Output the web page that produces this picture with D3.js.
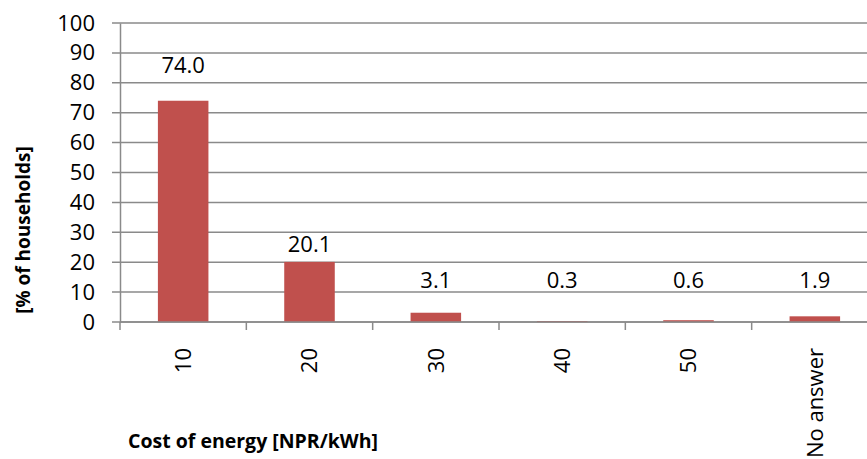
<!DOCTYPE html>
<html>
<head>
<meta charset="utf-8">
<script src="https://cdn.jsdelivr.net/npm/d3@7"></script>
<style>
  body { margin: 0; background: #fff; }
  svg { display: block; font-family: 'Open Sans', sans-serif; }
</style>
</head>
<body>
<div class="bar-chart"></div>
<script>
const categories = ['10', '20', '30', '40', '50', 'No answer']
const shares = [74.0, 20.1, 3.1, 0.3, 0.6, 1.9]
const yTicks = [0, 10, 20, 30, 40, 50, 60, 70, 80, 90, 100]

const width = 867
const height = 459
const margin = { top: 23, right: -11, bottom: 137, left: 120 }
const plotW = width - margin.left - margin.right
const plotH = height - margin.top - margin.bottom

const svg = d3
  .select('.bar-chart')
  .append('svg')
  .attr('width', width)
  .attr('height', height)

const g = svg.append('g').attr('transform', `translate(${margin.left},${margin.top})`)

const x = d3
  .scaleBand()
  .domain(categories)
  .range([0, plotW])
  .paddingInner(0.6)
  .paddingOuter(0.3)

const y = d3
  .scaleLinear()
  .domain([0, 100])
  .range([plotH, 0])

// gridlines plus the short ticks sticking out left
g.append('g')
  .selectAll('line')
  .data(yTicks)
  .enter()
  .append('line')
  .attr('x1', -8)
  .attr('x2', plotW)
  .attr('y1', d => y(d))
  .attr('y2', d => y(d))
  .attr('stroke', '#8a8a8a')
  .attr('stroke-width', 1.5)

// y axis
const yAxis = g.append('g').call(d3.axisLeft(y).tickValues(yTicks).tickSize(0).tickPadding(25))
yAxis.select('.domain').attr('stroke', '#8a8a8a').attr('stroke-width', 1.5)
yAxis.selectAll('text').attr('font-size', 22).attr('fill', '#000').attr('font-family', 'Open Sans')

// bars
g.selectAll('rect')
  .data(shares)
  .enter()
  .append('rect')
  .attr('x', (d, i) => x(categories[i]))
  .attr('y', d => y(d))
  .attr('width', x.bandwidth())
  .attr('height', d => Math.max(plotH - y(d), 1))
  .attr('fill', '#c0504d')

// value labels (the big one and the tiny ones were nudged in the original)
const labelY = d => {
  if (d > 50) return y(d) - 28
  return Math.min(y(d) - 10, y(11.3))
}
g.selectAll('.value')
  .data(shares)
  .enter()
  .append('text')
  .attr('class', 'value')
  .attr('x', (d, i) => x(categories[i]) + x.bandwidth() / 2)
  .attr('y', labelY)
  .attr('text-anchor', 'middle')
  .attr('font-size', 22)
  .text(d => d.toFixed(1))

// x axis line and category boundary ticks
const xAxis = g.append('g').attr('transform', `translate(0,${plotH})`)
xAxis
  .append('line')
  .attr('x1', 0)
  .attr('x2', plotW)
  .attr('stroke', '#8a8a8a')
  .attr('stroke-width', 1.5)
xAxis
  .selectAll('.tick')
  .data(d3.range(categories.length + 1))
  .enter()
  .append('line')
  .attr('x1', d => d * x.step())
  .attr('x2', d => d * x.step())
  .attr('y1', 0)
  .attr('y2', 8)
  .attr('stroke', '#8a8a8a')
  .attr('stroke-width', 1.5)
xAxis
  .selectAll('text')
  .data(categories)
  .enter()
  .append('text')
  .attr('transform', d => `translate(${x(d) + x.bandwidth() / 2},26) rotate(-90)`)
  .attr('text-anchor', 'end')
  .attr('dy', '0.35em')
  .attr('font-size', 22)
  .text(d => d)

// axis titles
svg
  .append('text')
  .attr('x', 128)
  .attr('y', 448)
  .attr('font-size', 19.5)
  .attr('font-weight', 'bold')
  .text('Cost of energy [NPR/kWh]')

svg
  .append('text')
  .attr('transform', 'translate(30,230) rotate(-90)')
  .attr('text-anchor', 'middle')
  .attr('font-size', 19)
  .attr('font-weight', 'bold')
  .text('[% of households]')
</script>
</body>
</html>
